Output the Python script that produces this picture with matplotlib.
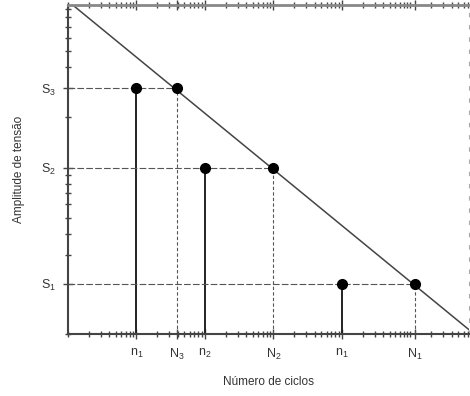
import numpy as np
import matplotlib
matplotlib.use('Agg')
import matplotlib.pyplot as plt
from matplotlib.ticker import LogLocator, NullFormatter

plt.rcParams['font.family'] = ['Liberation Sans', 'DejaVu Sans']
plt.rcParams['mathtext.fontset'] = 'custom'
plt.rcParams['mathtext.rm'] = 'Liberation Sans'

# Niveis de tensao e numero de ciclos (escala log-log)
S_levels = [30, 10, 2]
N_fail = [39, 1000, 1.15e5]
n_applied = [10, 100, 1e4]
S_labels = [r'$\mathregular{S_3}$', r'$\mathregular{S_2}$', r'$\mathregular{S_1}$']
x_labels = [r'$\mathregular{n_1}$', r'$\mathregular{N_3}$', r'$\mathregular{n_2}$',
            r'$\mathregular{N_2}$', r'$\mathregular{n_1}$', r'$\mathregular{N_1}$']
x_ticks = [10, 39, 100, 1000, 1e4, 1.15e5]

# Curva S-N (reta em log-log)
line_N = [1, 7.2e5]
line_S = [100, 1.06]

fig = plt.figure(figsize=(4.7, 3.96), dpi=100)
ax = fig.add_axes([0.1447, 0.1566, 0.8533, 0.8304])
ax.set_xscale('log')
ax.set_yscale('log')
ax.set_xlim(1, 7.2e5)
ax.set_ylim(1, 94.6)

ax.plot(line_N, line_S, color='#444444', lw=1.1)

for S, N, n in zip(S_levels, N_fail, n_applied):
    ax.plot([1, N], [S, S], color='#555555', lw=0.8, ls=(0, (6, 2)))
    ax.plot([N, N], [1, S], color='#555555', lw=0.8, ls=(0, (3, 2)))
    ax.plot([n, n], [1, S], color='#222222', lw=1.4)
    ax.plot([n, N], [S, S], 'o', color='black', ms=7)

ax.set_yticks(S_levels)
ax.set_yticklabels(S_labels)
ax.set_xticks(x_ticks)
ax.set_xticklabels(x_labels)
ax.xaxis.set_minor_locator(LogLocator(base=10, subs=np.arange(1, 10), numticks=20))
ax.yaxis.set_minor_locator(LogLocator(base=10, subs=np.arange(1, 10), numticks=20))
ax.xaxis.set_minor_formatter(NullFormatter())
ax.yaxis.set_minor_formatter(NullFormatter())

ax.tick_params(axis='both', which='major', direction='inout', length=7, width=1,
               color='#444444', labelsize=9, labelcolor='#333333')
ax.tick_params(axis='both', which='minor', direction='inout', length=4, width=1,
               color='#444444')
ax.tick_params(axis='x', which='both', top=True, pad=6)
ax.tick_params(axis='y', pad=5)

for side in ['left', 'bottom']:
    ax.spines[side].set_color('#444444')
    ax.spines[side].set_linewidth(1.5)
ax.spines['top'].set_color('#888888')
ax.spines['top'].set_linewidth(2)
ax.spines['right'].set_color('#aaaaaa')
ax.spines['right'].set_linewidth(0.8)
ax.spines['right'].set_linestyle((0, (3, 8)))

ax.set_xlabel('Número de ciclos', fontsize=8.5, color='#333333', labelpad=10)
ax.set_ylabel('Amplitude de tensão', fontsize=8.5, color='#333333', labelpad=12)

fig.savefig('out.png', dpi=100)
